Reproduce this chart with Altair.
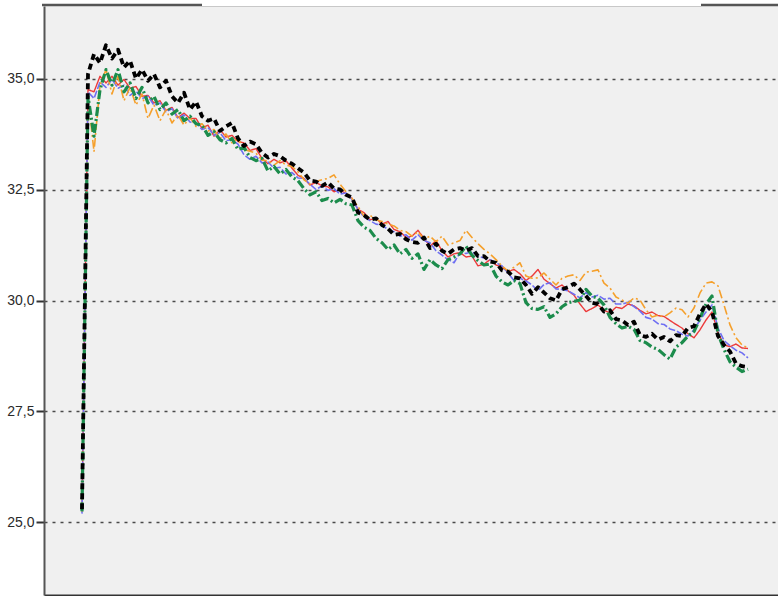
import altair as alt
import pandas as pd

# sample index of every reading (equally spaced in time)
n_points = 112
t = list(range(n_points))

red = [25.28, 34.75, 34.70, 35.05, 34.90, 35.05, 34.85, 34.98, 34.78, 34.82,
       34.60, 34.62, 34.45, 34.50, 34.28, 34.35, 34.12, 34.22, 34.10, 34.10,
       33.88, 33.95, 33.70, 33.85, 33.68, 33.72, 33.58, 33.55, 33.38, 33.42,
       33.20, 33.08, 33.18, 33.10, 33.15, 32.98, 32.82, 32.75, 32.60, 32.66,
       32.58, 32.56, 32.45, 32.50, 32.40, 32.30, 32.05, 31.98, 31.82, 31.85,
       31.72, 31.78, 31.60, 31.55, 31.42, 31.45, 31.58, 31.40, 31.22, 31.35,
       31.12, 30.98, 31.05, 31.08, 30.98, 31.00, 30.78, 30.82, 30.92, 30.80,
       30.75, 30.65, 30.70, 30.60, 30.45, 30.55, 30.70, 30.48, 30.38, 30.28,
       30.35, 30.22, 30.12, 29.92, 29.75, 29.82, 29.90, 29.78, 29.72, 29.85,
       29.82, 29.92, 29.88, 29.78, 29.70, 29.74, 29.66, 29.64, 29.55, 29.46,
       29.38, 29.25, 29.16, 29.34, 29.56, 29.74, 29.27, 29.00, 28.96, 29.02,
       28.93, 28.92]

blue = [25.20, 34.70, 34.55, 34.92, 34.80, 34.98, 34.78, 34.85, 34.62, 34.72,
        34.55, 34.60, 34.40, 34.45, 34.25, 34.32, 34.10, 34.18, 34.02, 34.00,
        33.85, 33.90, 33.72, 33.78, 33.60, 33.62, 33.52, 33.28, 33.18, 33.25,
        33.10, 33.12, 32.98, 33.00, 32.85, 32.88, 32.76, 32.75, 32.62, 32.50,
        32.58, 32.48, 32.52, 32.40, 32.42, 32.28, 32.05, 31.88, 31.80, 31.72,
        31.70, 31.60, 31.55, 31.45, 31.48, 31.36, 31.48, 31.35, 31.30, 31.12,
        31.02, 30.92, 30.85, 31.08, 31.06, 31.10, 31.00, 30.96, 30.92, 30.85,
        30.78, 30.62, 30.45, 30.50, 30.44, 30.35, 30.22, 30.36, 30.40, 30.26,
        30.25, 30.22, 30.14, 30.06, 30.18, 30.08, 30.12, 30.03, 30.05, 29.92,
        29.92, 29.96, 29.86, 29.76, 29.62, 29.58, 29.48, 29.46, 29.36, 29.32,
        29.24, 29.20, 29.34, 29.56, 29.74, 29.90, 29.38, 29.10, 28.98, 28.88,
        28.82, 28.71]

orange = [25.25, 34.60, 33.35, 34.85, 35.20, 34.65, 35.05, 34.50, 34.80, 34.40,
          34.65, 34.10, 34.40, 34.05, 34.30, 34.00, 34.18, 33.95, 34.12, 33.92,
          33.98, 33.82, 33.85, 33.65, 33.75, 33.55, 33.65, 33.40, 33.36, 33.32,
          33.16, 33.15, 33.05, 33.15, 33.05, 33.02, 32.90, 32.72, 32.62, 32.68,
          32.72, 32.75, 32.83, 32.62, 32.45, 32.30, 32.12, 31.90, 31.92, 31.82,
          31.78, 31.72, 31.68, 31.58, 31.55, 31.45, 31.55, 31.38, 31.45, 31.32,
          31.45, 31.25, 31.30, 31.35, 31.58, 31.42, 31.28, 31.15, 31.05, 30.92,
          30.78, 30.66, 30.75, 30.85, 30.55, 30.50, 30.51, 30.62, 30.48, 30.35,
          30.50, 30.55, 30.58, 30.45, 30.64, 30.66, 30.69, 30.39, 30.28, 30.08,
          30.01, 29.94, 30.06, 30.01, 29.79, 29.63, 29.67, 29.63, 29.72, 29.83,
          29.79, 29.63, 29.83, 30.17, 30.39, 30.42, 30.33, 29.90, 29.45, 29.16,
          29.00, 28.93]

green = [25.25, 34.60, 33.70, 34.75, 35.20, 34.85, 35.20, 34.70, 34.90, 34.55,
         34.80, 34.45, 34.60, 34.30, 34.45, 34.20, 34.30, 34.05, 34.15, 33.98,
         33.95, 33.72, 33.80, 33.62, 33.55, 33.65, 33.40, 33.45, 33.22, 33.15,
         33.20, 32.92, 33.02, 32.85, 32.95, 32.78, 32.70, 32.52, 32.38, 32.45,
         32.25, 32.30, 32.20, 32.28, 32.18, 32.15, 31.80, 31.65, 31.58, 31.40,
         31.30, 31.15, 31.25, 31.05, 31.15, 30.95, 31.05, 30.70, 30.92, 30.80,
         30.72, 30.92, 30.98, 31.05, 31.22, 31.02, 30.90, 30.80, 30.82, 30.55,
         30.42, 30.35, 30.45, 30.38, 29.95, 29.82, 29.80, 29.86, 29.62, 29.70,
         29.86, 29.95, 29.98, 30.01, 30.25, 30.10, 30.05, 29.90, 29.62, 29.48,
         29.38, 29.42, 29.35, 29.10, 29.05, 28.95, 28.90, 28.78, 28.68, 28.95,
         29.05, 29.20, 29.30, 29.60, 29.92, 30.10, 29.25, 28.90, 28.62, 28.50,
         28.40, 28.45]

black = [25.30, 35.10, 35.55, 35.35, 35.75, 35.45, 35.65, 35.25, 35.40, 35.00,
         35.20, 34.95, 35.10, 34.80, 34.95, 34.60, 34.45, 34.68, 34.30, 34.48,
         34.15, 34.05, 34.10, 33.82, 33.92, 34.00, 33.65, 33.48, 33.58, 33.52,
         33.32, 33.22, 33.30, 33.25, 33.15, 33.08, 32.98, 32.88, 32.70, 32.68,
         32.58, 32.66, 32.52, 32.50, 32.38, 32.32, 31.98, 31.92, 31.82, 31.85,
         31.70, 31.62, 31.48, 31.50, 31.38, 31.32, 31.30, 31.42, 31.18, 31.28,
         31.12, 31.05, 31.15, 31.18, 31.12, 31.18, 31.00, 31.00, 30.88, 30.85,
         30.68, 30.65, 30.52, 30.50, 30.35, 30.15, 30.30, 30.18, 30.05, 30.00,
         30.25, 30.30, 30.38, 30.25, 30.10, 29.95, 29.92, 29.75, 29.78, 29.58,
         29.55, 29.45, 29.52, 29.22, 29.18, 29.25, 29.12, 29.18, 29.08, 29.22,
         29.20, 29.38, 29.42, 29.70, 29.92, 29.75, 29.20, 29.00, 28.85, 28.58,
         28.52, 28.50]

y_ticks = [25.0, 27.5, 30.0, 32.5, 35.0]

# (values, colour, dash pattern, stroke width), drawn bottom to top
series = [
    (red, "#ec3b3b", [1, 0], 1.4),
    (blue, "#6f6ff2", [7, 2], 1.6),
    (orange, "#f5a02c", [9, 3, 2, 3], 1.6),
    (green, "#1c8c4c", [9, 3, 2, 3], 3.2),
    (black, "#000000", [6, 4], 3.8),
]

x_enc = alt.X(
    "t:Q",
    scale=alt.Scale(domain=[-6.333, 116.0], nice=False, zero=False),
    axis=alt.Axis(labels=False, ticks=False, grid=False, title=None,
                  domainColor="#333333", domainWidth=2),
)
y_enc = alt.Y(
    "v:Q",
    scale=alt.Scale(domain=[23.367, 36.633], nice=False, zero=False),
    axis=alt.Axis(
        values=y_ticks,
        labelExpr="replace(format(datum.value, '.1f'), '.', ',')",
        title=None,
        grid=True,
        gridDash=[3, 5],
        gridColor="#4a4a4a",
        gridWidth=1.3,
        gridOpacity=1,
        tickSize=8,
        tickWidth=2,
        tickColor="#333333",
        domainColor="#555555",
        domainWidth=2,
        labelFont="Liberation Sans",
        labelFontSize=14,
        labelColor="#2a2a2a",
        labelPadding=2,
    ),
)

layers = []
for values, colour, dash, width in series:
    df = pd.DataFrame({"t": t, "v": values})
    layers.append(
        alt.Chart(df)
        .mark_line(color=colour, strokeDash=dash, strokeWidth=width,
                   strokeJoin="round")
        .encode(x=x_enc, y=y_enc)
    )

# frame along the top edge, interrupted by the white title strip
frame_df = pd.DataFrame({"k": [0]})
top_left = alt.Chart(frame_df).mark_rule(color="#555555", strokeWidth=2.5).encode(
    x=alt.value(-2), x2=alt.value(158), y=alt.value(-1))
top_right = alt.Chart(frame_df).mark_rule(color="#555555", strokeWidth=2.5).encode(
    x=alt.value(657), x2=alt.value(740), y=alt.value(-1))
strip_line = alt.Chart(frame_df).mark_rule(color="#c8c8c8", strokeWidth=1).encode(
    x=alt.value(158), x2=alt.value(657), y=alt.value(0.5))

chart = (
    alt.layer(*layers, top_left, top_right, strip_line)
    .properties(
        width=734,
        height=589,
        autosize=alt.AutoSizeParams(type="none"),
        padding={"left": 44, "top": 6, "right": 0, "bottom": 1},
        background="#ffffff",
    )
    .configure_view(fill="#f0f0f0", stroke=None)
)

chart.save("out.html", embed_options={"renderer": "svg", "actions": False})
